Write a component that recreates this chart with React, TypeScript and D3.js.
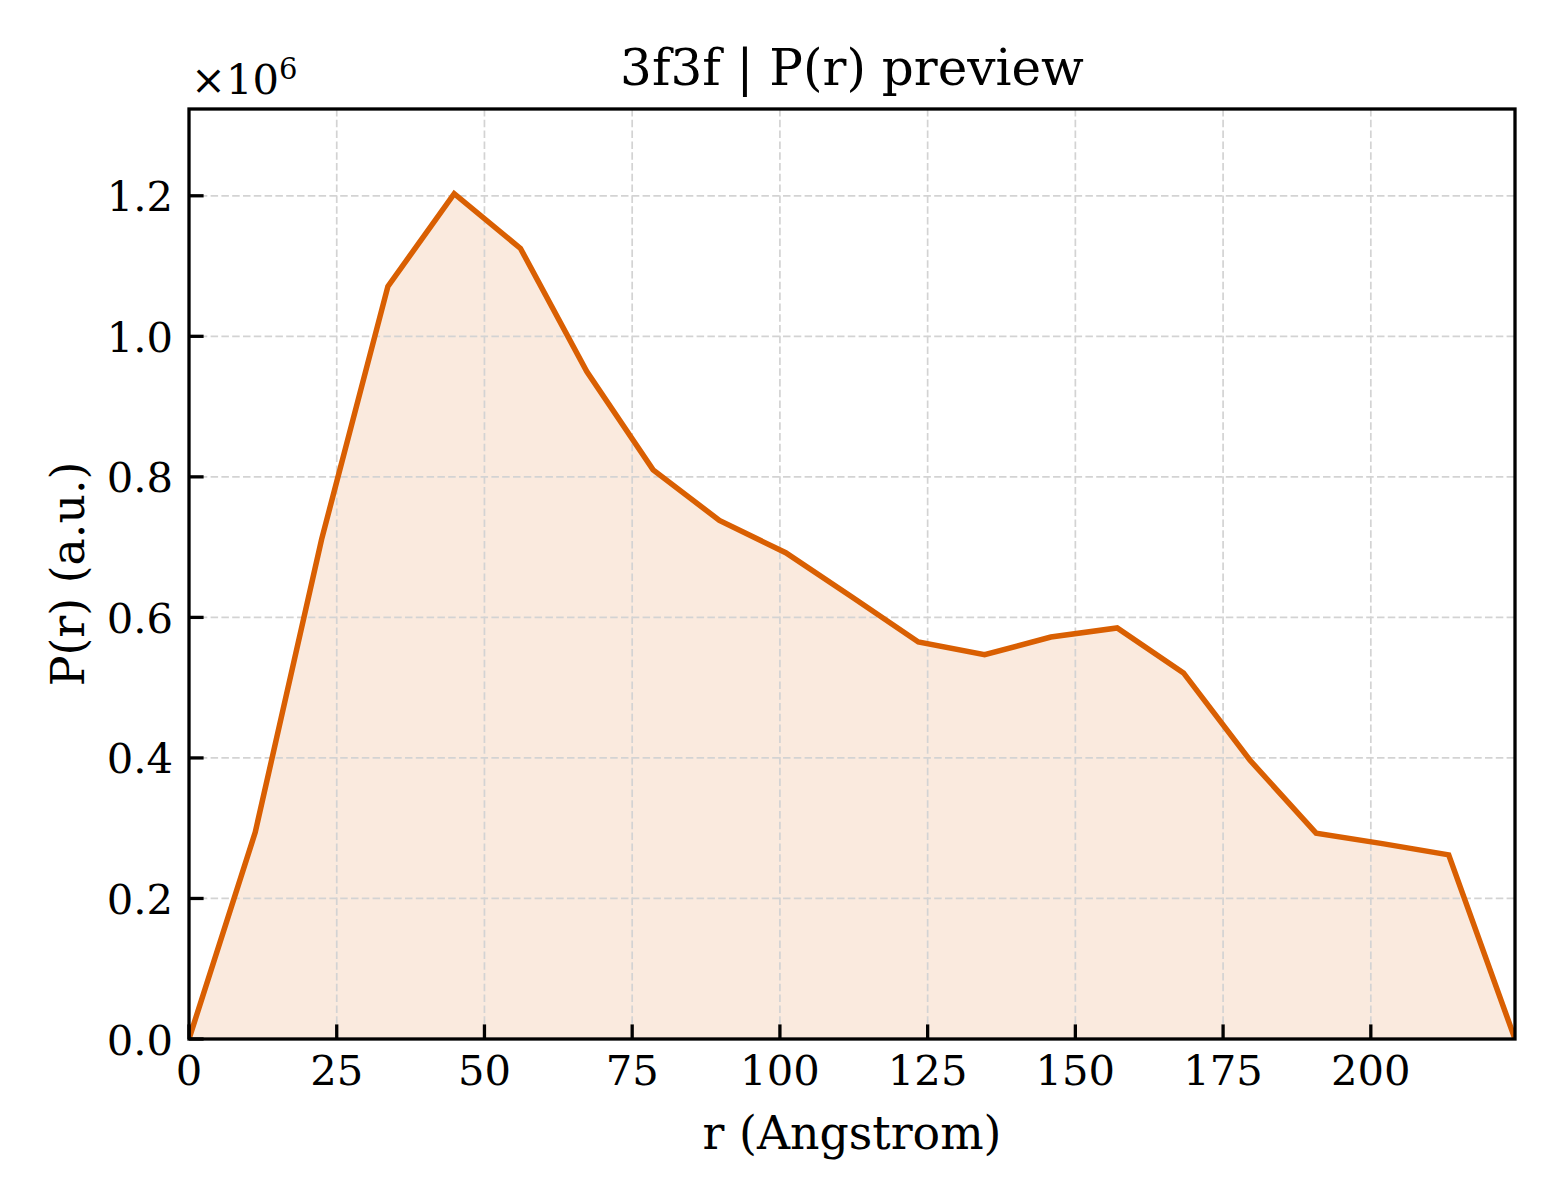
import React from "react";
import * as d3 from "d3";

const rValues = [0, 11.22, 22.44, 33.66, 44.88, 56.1, 67.32, 78.54, 89.76, 100.98, 112.2, 123.42, 134.64, 145.86, 157.08, 168.3, 179.52, 190.74, 201.96, 213.18, 224.4];
const prValues = [0, 294500, 711000, 1071000, 1203000, 1125000, 950000, 810000, 738000, 692000, 629000, 565000, 547000, 572000, 585000, 521000, 397000, 293000, 278000, 262000, 0];
const xTicks = [0, 25, 50, 75, 100, 125, 150, 175, 200];
const yTicks = [0, 200000, 400000, 600000, 800000, 1000000, 1200000];
const titleText = "3f3f | P(r) preview";
const xLabel = "r (Angstrom)";
const yLabel = "P(r) (a.u.)";

const W = 1560, H = 1200;
const L = 189, T = 109, R = 1515, B = 1039;
const FONT = "'DejaVu Serif', serif";
const COLOR = "#d95f02";

export default function App() {
  const x = d3.scaleLinear().domain([0, 224.4]).range([L, R]);
  const y = d3.scaleLinear().domain([0, 1323500]).range([B, T]);
  const pts = rValues.map((r, i) => [r, prValues[i]] as [number, number]);
  const line = d3.line<[number, number]>().x(d => x(d[0])).y(d => y(d[1]));
  const area = d3.area<[number, number]>().x(d => x(d[0])).y0(y(0)).y1(d => y(d[1]));
  const fmtY = (v: number) => (v / 1e6).toFixed(1);
  return (
    <svg width={W} height={H} style={{ position: "absolute", left: 0, top: 0, background: "#fff" }} fontFamily={FONT}>
      <rect x={0} y={0} width={W} height={H} fill="#fff" />
      <defs>
        <clipPath id="plotclip"><rect x={L} y={T} width={R - L} height={B - T} /></clipPath>
      </defs>
      <g clipPath="url(#plotclip)">
        <path d={area(pts) || ""} fill={COLOR} fillOpacity={0.13} stroke="none" />
        {xTicks.map(t => (
          <line key={"gx" + t} x1={x(t)} x2={x(t)} y1={T} y2={B} stroke="#d3d3d3" strokeWidth={1.7} strokeDasharray="7.5,3.3" />
        ))}
        {yTicks.map(t => (
          <line key={"gy" + t} x1={L} x2={R} y1={y(t)} y2={y(t)} stroke="#d3d3d3" strokeWidth={1.7} strokeDasharray="7.5,3.3" />
        ))}
        <path d={line(pts) || ""} fill="none" stroke={COLOR} strokeWidth={5.5} strokeLinejoin="miter" strokeLinecap="butt" />
      </g>
      {xTicks.map(t => (
        <g key={"tx" + t}>
          <line x1={x(t)} x2={x(t)} y1={B} y2={B - 14.6} stroke="#000" strokeWidth={3.3} />
          <text x={x(t)} y={1085} textAnchor="middle" fontSize={41.7} fill="#000">{t}</text>
        </g>
      ))}
      {yTicks.map(t => (
        <g key={"ty" + t}>
          <line x1={L} x2={L + 14.6} y1={y(t)} y2={y(t)} stroke="#000" strokeWidth={3.3} />
          <text x={173} y={y(t) + 15.5} textAnchor="end" fontSize={41.7} fill="#000">{fmtY(t)}</text>
        </g>
      ))}
      <rect x={L} y={T} width={R - L} height={B - T} fill="none" stroke="#000" strokeWidth={3.3} />
      <text x={191} y={94} fontSize={41.7} fill="#000">×10<tspan fontSize={29} dy={-15}>6</tspan></text>
      <text x={(L + R) / 2} y={85} textAnchor="middle" fontSize={50} fill="#000">{titleText}</text>
      <text x={(L + R) / 2} y={1149} textAnchor="middle" fontSize={45.8} fill="#000">{xLabel}</text>
      <text transform={`translate(84,${(T + B) / 2}) rotate(-90)`} textAnchor="middle" fontSize={45.8} fill="#000">{yLabel}</text>
    </svg>
  );
}
